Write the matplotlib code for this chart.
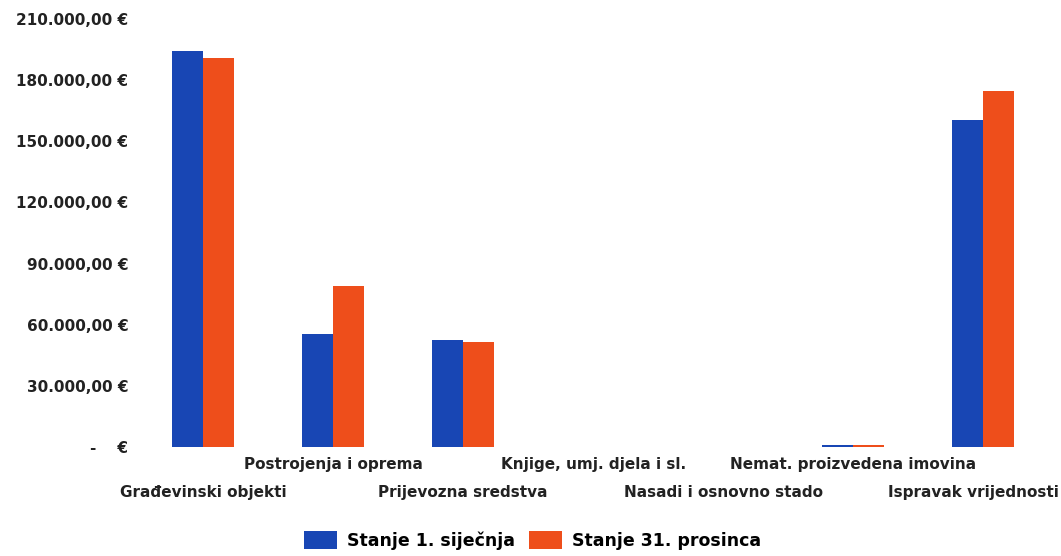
import numpy as np
import matplotlib.pyplot as plt
from matplotlib.ticker import FuncFormatter
from matplotlib.transforms import ScaledTranslation

plt.rcParams.update({"font.family": ["DejaVu Sans"]})

categories = [
    "Građevinski objekti",
    "Postrojenja i oprema",
    "Prijevozna sredstva",
    "Knjige, umj. djela i sl.",
    "Nasadi i osnovno stado",
    "Nemat. proizvedena imovina",
    "Ispravak vrijednosti",
]
stanje_1_sijecnja = [194500, 55200, 52300, 0, 0, 1100, 160300]
stanje_31_prosinca = [191000, 79200, 51300, 0, 0, 1000, 174500]
series_labels = ["Stanje 1. siječnja", "Stanje 31. prosinca"]

BLUE = "#1846b4"
ORANGE = "#ee4e1b"


def euro(v, pos=None):
    if v == 0:
        return "-    €"
    s = f"{v:,.2f}".replace(",", "X").replace(".", ",").replace("X", ".")
    return f"{s} €"


fig = plt.figure(figsize=(10.61, 5.56), dpi=100)
ax = fig.add_axes([0.130, 0.196, 0.858, 0.770])

x = np.arange(len(categories))
w = 0.24
ax.bar(x - w / 2, stanje_1_sijecnja, w, color=BLUE, label=series_labels[0])
ax.bar(x + w / 2, stanje_31_prosinca, w, color=ORANGE, label=series_labels[1])

ax.set_xlim(-0.5, len(categories) - 0.5)
ax.set_ylim(0, 210000)
ax.set_yticks(np.arange(0, 210001, 30000))
ax.yaxis.set_major_formatter(FuncFormatter(euro))
ax.tick_params(axis="y", length=0, pad=7, labelsize=11)
for lbl in ax.get_yticklabels():
    lbl.set_fontweight("bold")
    lbl.set_color("#222222")

ax.set_xticks(x)
ax.set_xticklabels(categories, fontsize=11, fontweight="bold", color="#222222")
ax.tick_params(axis="x", length=0)
for i, tick in enumerate(ax.xaxis.get_major_ticks()):
    tick.set_pad(7 if i % 2 == 1 else 27)

# keep the last label inside the figure
last = ax.get_xticklabels()[-1]
last.set_transform(last.get_transform() + ScaledTranslation(-10 / 100, 0, fig.dpi_scale_trans))

for side in ["top", "right", "left", "bottom"]:
    ax.spines[side].set_visible(False)

fig.legend(
    loc="center",
    bbox_to_anchor=(0.502, 0.028),
    ncol=2,
    frameon=False,
    prop={"size": 12.5, "weight": "bold"},
    handlelength=1.9,
    handleheight=1.2,
    columnspacing=0.8,
    handletextpad=0.6,
)

plt.savefig("out.png", dpi=100)
